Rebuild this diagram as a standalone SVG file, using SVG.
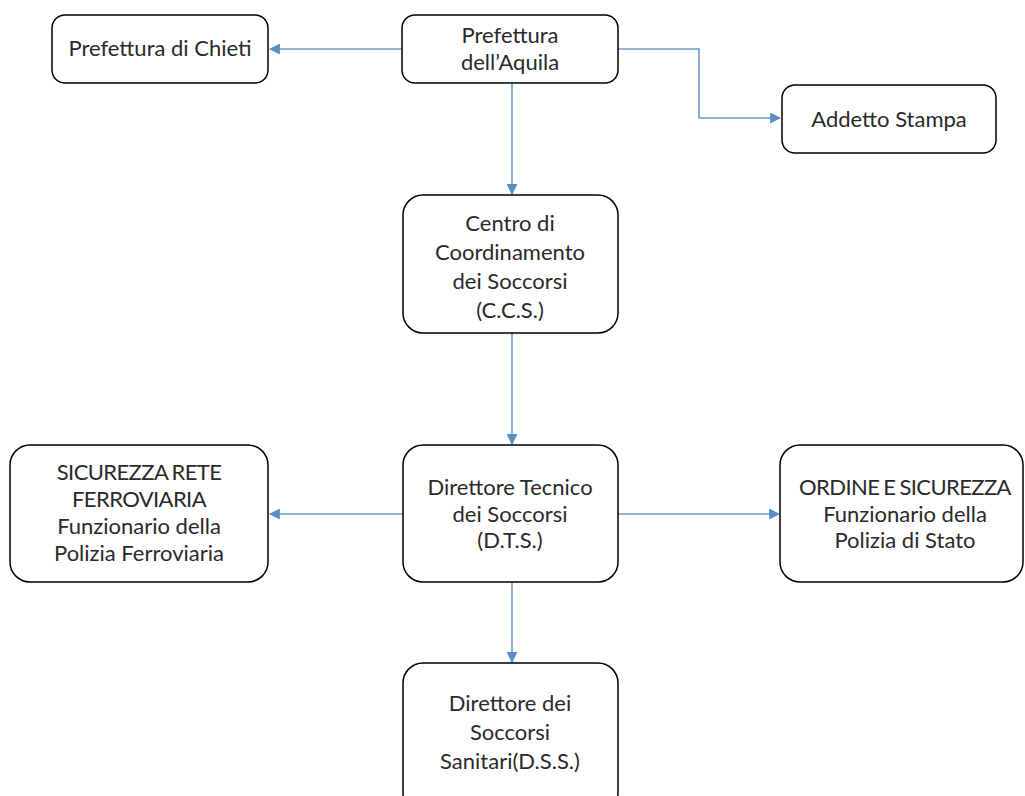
<svg xmlns="http://www.w3.org/2000/svg" width="1025" height="796" viewBox="0 0 1025 796">
<style>
.box{fill:#fff;stroke:#000;stroke-width:1.5}
.t{font-family:Lato,"Open Sans","Liberation Sans",sans-serif;font-size:22px;fill:#2a2a2a;text-anchor:middle}
.cap{letter-spacing:-0.6px;word-spacing:-1px}
.c{fill:none;stroke:#6b9bc8;stroke-width:1.6}
</style>
<defs>
<marker id="ah" viewBox="0 0 10 10" refX="9" refY="5" markerWidth="11" markerHeight="11" markerUnits="userSpaceOnUse" orient="auto">
<path d="M0,0 L10,5 L0,10 z" fill="#5b8fc4"/>
</marker>
</defs>
<rect width="1025" height="796" fill="#fff"/>
<g id="connectors">
<path class="c" d="M402,49 H270" marker-end="url(#ah)"/>
<path class="c" d="M618,49 H699 V118 H780" marker-end="url(#ah)"/>
<path class="c" d="M512,83 V194" marker-end="url(#ah)"/>
<path class="c" d="M512,333 V444" marker-end="url(#ah)"/>
<path class="c" d="M403,514 H270" marker-end="url(#ah)"/>
<path class="c" d="M618,514 H779" marker-end="url(#ah)"/>
<path class="c" d="M512,582 V662" marker-end="url(#ah)"/>
</g>
<g id="chieti">
<rect class="box" x="52" y="15" width="216" height="68" rx="13"/>
<text class="t" x="160" y="56">Prefettura di Chieti</text>
</g>
<g id="aquila">
<rect class="box" x="402" y="15" width="216" height="68" rx="13"/>
<text class="t" x="510" y="43">Prefettura</text>
<text class="t" x="510" y="70">dell’Aquila</text>
</g>
<g id="addetto">
<rect class="box" x="782" y="85" width="214" height="68" rx="13"/>
<text class="t" x="889" y="127">Addetto Stampa</text>
</g>
<g id="ccs">
<rect class="box" x="403" y="195" width="215" height="138" rx="20"/>
<text class="t" x="510" y="231">Centro di</text>
<text class="t" x="510" y="260">Coordinamento</text>
<text class="t" x="510" y="289">dei Soccorsi</text>
<text class="t" x="510" y="318">(C.C.S.)</text>
</g>
<g id="dts">
<rect class="box" x="403" y="445" width="215" height="137" rx="20"/>
<text class="t" x="510" y="495">Direttore Tecnico</text>
<text class="t" x="510" y="522">dei Soccorsi</text>
<text class="t" x="510" y="548">(D.T.S.)</text>
</g>
<g id="sicurezza">
<rect class="box" x="10" y="445" width="258" height="137" rx="20"/>
<text class="t cap" x="139" y="480">SICUREZZA RETE</text>
<text class="t cap" x="139" y="507">FERROVIARIA</text>
<text class="t" x="139" y="534">Funzionario della</text>
<text class="t" x="139" y="561">Polizia Ferroviaria</text>
</g>
<g id="ordine">
<rect class="box" x="780" y="445" width="243" height="137" rx="20"/>
<text class="t cap" x="905" y="495">ORDINE E SICUREZZA</text>
<text class="t" x="905" y="522">Funzionario della</text>
<text class="t" x="905" y="548">Polizia di Stato</text>
</g>
<g id="dss">
<rect class="box" x="403" y="663" width="215" height="150" rx="20"/>
<text class="t" x="510" y="711">Direttore dei</text>
<text class="t" x="510" y="740">Soccorsi</text>
<text class="t" x="510" y="769">Sanitari(D.S.S.)</text>
</g>
</svg>
